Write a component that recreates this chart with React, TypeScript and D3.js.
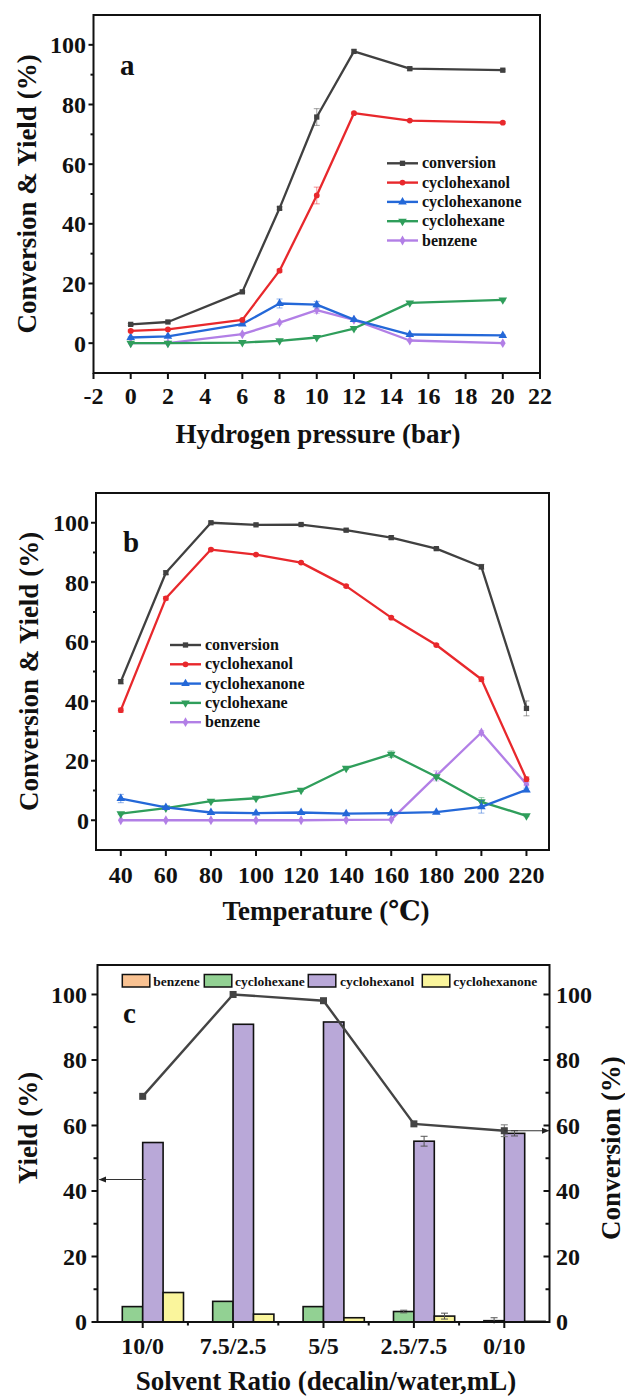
import React from 'react';
import * as d3 from 'd3';

const FONT = "'Liberation Serif', 'Times New Roman', Times, 'DejaVu Serif', serif";

// ---------- shared line-series definitions (panels a, b) ----------
const lineSeriesNames = ['conversion', 'cyclohexanol', 'cyclohexanone', 'cyclohexane', 'benzene'];
const lineSeriesColors = ['#404040', '#e8282c', '#2468d8', '#2f9e5b', '#b27fe6'];

// ---------- panel a : hydrogen pressure ----------
const pressureValues = [0, 2, 6, 8, 10, 12, 15, 20];
const pressureTicks = [-2, 0, 2, 4, 6, 8, 10, 12, 14, 16, 18, 20, 22];
const aConversion = [6.3, 7.1, 17.2, 45.2, 75.8, 97.8, 92.0, 91.5];
const aCyclohexanol = [4.1, 4.6, 7.8, 24.3, 49.5, 77.1, 74.6, 73.9];
const aCyclohexanone = [1.9, 2.3, 6.4, 13.3, 12.9, 7.9, 2.9, 2.6];
const aCyclohexane = [0, 0, 0.2, 0.8, 1.9, 4.9, 13.5, 14.5];
const aBenzene = [0, 0, 3.0, 6.9, 11.1, 7.8, 0.9, 0];
const aConversionErr = [0.3, 0.3, 0.3, 0.5, 2.8, 0.5, 0.5, 0.3];
const aCyclohexanolErr = [0.3, 0.3, 0.3, 0.5, 2.8, 0.3, 0.3, 0.3];
const aCyclohexanoneErr = [0.2, 0.2, 0.3, 1.5, 1.1, 0.3, 0.2, 0.2];
const aCyclohexaneErr = [0, 0, 0, 0.2, 0.3, 0.3, 0.3, 0.3];
const aBenzeneErr = [0, 0, 0.3, 0.5, 1.1, 0.3, 0.2, 0];

// ---------- panel b : temperature ----------
const temperatureValues = [40, 60, 80, 100, 120, 140, 160, 180, 200, 220];
const temperatureTicks = [40, 60, 80, 100, 120, 140, 160, 180, 200, 220];
const bConversion = [46.6, 83.2, 100.0, 99.3, 99.4, 97.5, 95.0, 91.3, 85.2, 37.6];
const bCyclohexanol = [37.0, 74.6, 91.0, 89.3, 86.6, 78.7, 68.1, 58.9, 47.4, 13.8];
const bCyclohexanone = [7.3, 4.3, 2.6, 2.4, 2.6, 2.2, 2.4, 2.7, 4.5, 10.2];
const bCyclohexane = [2.2, 4.1, 6.4, 7.4, 10.1, 17.5, 22.2, 14.6, 6.2, 1.5];
const bBenzene = [0, 0, 0, 0, 0, 0.1, 0.2, 14.9, 29.5, 12.1];
const bConversionErr = [0.7, 0.6, 0.3, 0.3, 0.3, 0.4, 0.6, 0.4, 0.8, 2.5];
const bCyclohexanolErr = [0.7, 0.6, 0.4, 0.3, 0.3, 0.4, 0.4, 0.3, 0.8, 0.8];
const bCyclohexanoneErr = [1.4, 0.4, 0.3, 0.2, 0.2, 0.2, 0.2, 0.3, 2.1, 0.6];
const bCyclohexaneErr = [0.3, 0.3, 0.3, 0.3, 0.3, 0.4, 1.1, 0.5, 1.4, 0.3];
const bBenzeneErr = [0, 0, 0, 0, 0, 0.1, 0.1, 1.7, 0.6, 0.5];

// ---------- panel c : solvent ratio ----------
const solventRatios = ['10/0', '7.5/2.5', '5/5', '2.5/7.5', '0/10'];
const barSeriesNames = ['benzene', 'cyclohexane', 'cyclohexanol', 'cyclohexanone'];
const barColors = ['#f9c292', '#92d193', '#b9a8d8', '#faf59c'];
const cBenzene = [0, 0, 0, 0, 0];
const cCyclohexane = [4.7, 6.3, 4.7, 3.2, 0.4];
const cCyclohexanol = [54.8, 90.9, 91.6, 55.2, 57.6];
const cCyclohexanone = [9.0, 2.4, 1.3, 1.8, 0.2];
const cBenzeneErr = [0, 0, 0, 0, 0];
const cCyclohexaneErr = [0, 0, 0, 0.4, 0.9];
const cCyclohexanolErr = [0, 0, 0, 1.5, 0.8];
const cCyclohexanoneErr = [0, 0, 0, 0.9, 0];
const cConversion = [68.9, 100.0, 98.1, 60.5, 58.4];
const cConversionErr = [0, 0, 0, 0, 1.8];
const yieldTicks = [0, 20, 40, 60, 80, 100];
const conversionTicks = [0, 20, 40, 60, 80, 100];

const symbolTypes = [d3.symbolSquare, d3.symbolCircle, d3.symbolTriangle, d3.symbolTriangle, d3.symbolDiamond];
const symbolRotation = [0, 0, 0, 180, 0];
const symbolSizes = [28, 26, 32, 32, 28];

type Series = { values: number[]; errors: number[] };

function Marker({ idx, x, y, color }: { idx: number; x: number; y: number; color: string }) {
  const d = d3.symbol().type(symbolTypes[idx]).size(symbolSizes[idx])() || '';
  return <path d={d} transform={`translate(${x},${y}) rotate(${symbolRotation[idx]})`} fill={color} />;
}

type PanelCfg = {
  L: number; R: number; T: number; B: number;
  xDomain: [number, number];
  xTicks: number[];
  xs: number[];
  series: Series[];
  legendX: number; legendY: number;
  letter: string; letterX: number; letterY: number;
  xTitle: string; xTitleX: number; xTitleY: number;
  yTitleX: number; yTitleY: number;
  xLabelY: number; yLabelX: number;
};

function LinePanel({ c }: { c: PanelCfg }) {
  const x = d3.scaleLinear().domain(c.xDomain).range([c.L, c.R]);
  const y = d3.scaleLinear().domain([-10, 110]).range([c.B, c.T]);
  const line = d3.line<[number, number]>().x(d => x(d[0])).y(d => y(d[1]));
  const yMajor = [0, 20, 40, 60, 80, 100];
  const yMinor = [10, 30, 50, 70, 90];
  const order = [4, 3, 2, 1, 0];
  return (
    <g>
      {order.map(i => {
        const s = c.series[i];
        const col = lineSeriesColors[i];
        const pts: [number, number][] = c.xs.map((xv, j) => [xv, s.values[j]]);
        return (
          <g key={i}>
            <path d={line(pts) || ''} fill="none" stroke={col} strokeWidth={2.3} strokeLinejoin="round" />
            {c.xs.map((xv, j) => {
              const e = s.errors[j];
              if (!e) return null;
              const cx = x(xv);
              return (
                <g key={j} stroke={col} strokeOpacity={0.5} strokeWidth={1}>
                  <line x1={cx} x2={cx} y1={y(s.values[j] - e)} y2={y(s.values[j] + e)} />
                  <line x1={cx - 3} x2={cx + 3} y1={y(s.values[j] - e)} y2={y(s.values[j] - e)} />
                  <line x1={cx - 3} x2={cx + 3} y1={y(s.values[j] + e)} y2={y(s.values[j] + e)} />
                </g>
              );
            })}
            {c.xs.map((xv, j) => (
              <Marker key={'m' + j} idx={i} x={x(xv)} y={y(s.values[j])} color={col} />
            ))}
          </g>
        );
      })}
      <rect x={c.L} y={c.T} width={c.R - c.L} height={c.B - c.T} fill="none" stroke="#111" strokeWidth={2} />
      {yMajor.map(v => (
        <g key={'ym' + v}>
          <line x1={c.L - 5} x2={c.L} y1={y(v)} y2={y(v)} stroke="#111" strokeWidth={2} />
          <text x={c.yLabelX} y={y(v)} dy="0.35em" textAnchor="end" fontSize={24} fontWeight="bold" fontFamily={FONT} fill="#111">{v}</text>
        </g>
      ))}
      {yMinor.map(v => (
        <line key={'yn' + v} x1={c.L - 3} x2={c.L} y1={y(v)} y2={y(v)} stroke="#111" strokeWidth={2} />
      ))}
      {c.xTicks.map(v => (
        <g key={'xt' + v}>
          <line x1={x(v)} x2={x(v)} y1={c.B} y2={c.B + 6} stroke="#111" strokeWidth={2} />
          <text x={x(v)} y={c.xLabelY} textAnchor="middle" fontSize={24} fontWeight="bold" fontFamily={FONT} fill="#111">{v}</text>
        </g>
      ))}
      <text x={c.xTitleX} y={c.xTitleY} textAnchor="middle" fontSize={27} fontWeight="bold" fontFamily={FONT} fill="#111">{c.xTitle}</text>
      <text transform={`translate(${c.yTitleX},${c.yTitleY}) rotate(-90)`} textAnchor="middle" fontSize={27} fontWeight="bold" fontFamily={FONT} fill="#111">Conversion &amp; Yield (%)</text>
      <text x={c.letterX} y={c.letterY} fontSize={29} fontWeight="bold" fontFamily={FONT} fill="#111">{c.letter}</text>
      {lineSeriesNames.map((n, i) => {
        const ly = c.legendY + i * 19.3;
        return (
          <g key={'lg' + i}>
            <line x1={c.legendX} x2={c.legendX + 31} y1={ly} y2={ly} stroke={lineSeriesColors[i]} strokeWidth={2.4} />
            <Marker idx={i} x={c.legendX + 15.5} y={ly} color={lineSeriesColors[i]} />
            <text x={c.legendX + 35} y={ly} dy="0.32em" fontSize={16} fontWeight="bold" fontFamily={FONT} fill="#111">{n}</text>
          </g>
        );
      })}
    </g>
  );
}

function BarPanel() {
  const L = 97.5, R = 549.5, T = 965, B = 1322;
  const x0 = d3.scaleBand<string>().domain(solventRatios).range([L, R]).padding(0);
  const y = d3.scaleLinear().domain([0, 109]).range([B, T]);
  const bw = x0.bandwidth();
  const barVals = [cBenzene, cCyclohexane, cCyclohexanol, cCyclohexanone];
  const barErrs = [cBenzeneErr, cCyclohexaneErr, cCyclohexanolErr, cCyclohexanoneErr];
  const cx = (cat: string) => (x0(cat) || 0) + bw / 2;
  const line = d3.line<number>().x((_, i) => cx(solventRatios[i])).y(d => y(d));
  const ticks10 = d3.range(0, 101, 10);
  const legendOffsets = [122.3, 204.3, 308.3, 422.3];
  const textOffsets = [153.3, 235, 340, 453.3];
  const arrowLeftY = y(43.5);
  const lastX = cx(solventRatios[4]);
  const lastY = y(cConversion[4]);
  return (
    <g>
      <defs>
        <marker id="arrowHead" viewBox="0 0 10 10" refX="9" refY="5" markerWidth="7" markerHeight="7" orient="auto-start-reverse">
          <path d="M0,1 L10,5 L0,9 z" fill="#222" />
        </marker>
      </defs>
      {solventRatios.map((cat, ci) => {
        const x1 = d3.scaleBand<string>().domain(barSeriesNames).range([(x0(cat) || 0) + 4.4, (x0(cat) || 0) + bw - 4.4]).padding(0);
        return (
          <g key={cat}>
            {barSeriesNames.map((n, si) => {
              const v = barVals[si][ci];
              const bx = x1(n) || 0;
              const e = barErrs[si][ci];
              const mx = bx + x1.bandwidth() / 2;
              return (
                <g key={n}>
                  {v > 0 && (
                    <rect x={bx} y={y(v)} width={x1.bandwidth()} height={B - y(v)} fill={barColors[si]} stroke="#111" strokeWidth={1.6} />
                  )}
                  {e > 0 && (
                    <g stroke="#555" strokeWidth={1}>
                      <line x1={mx} x2={mx} y1={y(v - e)} y2={y(v + e)} />
                      <line x1={mx - 3.5} x2={mx + 3.5} y1={y(v + e)} y2={y(v + e)} />
                      <line x1={mx - 3.5} x2={mx + 3.5} y1={y(Math.max(0, v - e))} y2={y(Math.max(0, v - e))} />
                    </g>
                  )}
                </g>
              );
            })}
          </g>
        );
      })}
      <path d={line(cConversion) || ''} fill="none" stroke="#444" strokeWidth={2.4} />
      {cConversion.map((v, i) => {
        const e = cConversionErr[i];
        const px = cx(solventRatios[i]);
        return (
          <g key={'cv' + i}>
            {e > 0 && (
              <g stroke="#777" strokeWidth={1}>
                <line x1={px} x2={px} y1={y(v - e)} y2={y(v + e)} />
                <line x1={px - 3.5} x2={px + 3.5} y1={y(v + e)} y2={y(v + e)} />
                <line x1={px - 3.5} x2={px + 3.5} y1={y(v - e)} y2={y(v - e)} />
              </g>
            )}
            <rect x={px - 3.5} y={y(v) - 3.5} width={7} height={7} fill="#444" />
          </g>
        );
      })}
      {/* arrows */}
      <line x1={cx(solventRatios[0]) + 3} x2={L + 2} y1={arrowLeftY} y2={arrowLeftY} stroke="#333" strokeWidth={1.1} markerEnd="url(#arrowHead)" />
      <line x1={lastX} x2={R - 1} y1={lastY} y2={lastY} stroke="#333" strokeWidth={1.1} markerEnd="url(#arrowHead)" />
      {/* frame */}
      <rect x={L} y={T} width={R - L} height={B - T} fill="none" stroke="#111" strokeWidth={2} />
      {ticks10.map(v => (
        <g key={'t' + v}>
          <line x1={L - (v % 20 === 0 ? 6 : 4)} x2={L} y1={y(v)} y2={y(v)} stroke="#111" strokeWidth={2} />
          <line x1={R - (v % 20 === 0 ? 6 : 4)} x2={R} y1={y(v)} y2={y(v)} stroke="#111" strokeWidth={2} />
        </g>
      ))}
      {yieldTicks.map(v => (
        <text key={'yl' + v} x={87} y={y(v)} dy="0.35em" textAnchor="end" fontSize={24} fontWeight="bold" fontFamily={FONT} fill="#111">{v}</text>
      ))}
      {conversionTicks.map(v => (
        <text key={'cl' + v} x={556} y={y(v)} dy="0.35em" textAnchor="start" fontSize={24} fontWeight="bold" fontFamily={FONT} fill="#111">{v}</text>
      ))}
      {solventRatios.map((cat, i) => (
        <g key={'xl' + cat}>
          <line x1={cx(cat)} x2={cx(cat)} y1={B} y2={B + 6} stroke="#111" strokeWidth={2} />
          {i > 0 && <line x1={x0(cat) || 0} x2={x0(cat) || 0} y1={B} y2={B + 3.5} stroke="#111" strokeWidth={2} />}
          <text x={cx(cat)} y={1354} textAnchor="middle" fontSize={24} fontWeight="bold" fontFamily={FONT} fill="#111">{cat}</text>
        </g>
      ))}
      <text x={326} y={1390} textAnchor="middle" fontSize={27} fontWeight="bold" fontFamily={FONT} fill="#111">Solvent Ratio (decalin/water,mL)</text>
      <text transform={`translate(37,1128) rotate(-90)`} textAnchor="middle" fontSize={27} fontWeight="bold" fontFamily={FONT} fill="#111">Yield (%)</text>
      <text transform={`translate(620,1148) rotate(-90)`} textAnchor="middle" fontSize={27} fontWeight="bold" fontFamily={FONT} fill="#111">Conversion (%)</text>
      <text x={123} y={1023} fontSize={29} fontWeight="bold" fontFamily={FONT} fill="#111">c</text>
      {barSeriesNames.map((n, i) => (
        <g key={'lg' + n}>
          <rect x={legendOffsets[i]} y={974.5} width={27.5} height={12.5} fill={barColors[i]} stroke="#111" strokeWidth={1.5} />
          <text x={textOffsets[i]} y={985.5} fontSize={13.5} fontWeight="bold" fontFamily={FONT} fill="#111">{n}</text>
        </g>
      ))}
    </g>
  );
}

export default function App() {
  const panelA: PanelCfg = {
    L: 93.5, R: 540, T: 15, B: 373,
    xDomain: [-2, 22], xTicks: pressureTicks, xs: pressureValues,
    series: [
      { values: aConversion, errors: aConversionErr },
      { values: aCyclohexanol, errors: aCyclohexanolErr },
      { values: aCyclohexanone, errors: aCyclohexanoneErr },
      { values: aCyclohexane, errors: aCyclohexaneErr },
      { values: aBenzene, errors: aBenzeneErr },
    ],
    legendX: 387, legendY: 163.3,
    letter: 'a', letterX: 120, letterY: 75,
    xTitle: 'Hydrogen pressure (bar)', xTitleX: 318, xTitleY: 443,
    yTitleX: 36, yTitleY: 194,
    xLabelY: 404, yLabelX: 86,
  };
  const panelB: PanelCfg = {
    L: 96, R: 549, T: 493, B: 850,
    xDomain: [29, 230], xTicks: temperatureTicks, xs: temperatureValues,
    series: [
      { values: bConversion, errors: bConversionErr },
      { values: bCyclohexanol, errors: bCyclohexanolErr },
      { values: bCyclohexanone, errors: bCyclohexanoneErr },
      { values: bCyclohexane, errors: bCyclohexaneErr },
      { values: bBenzene, errors: bBenzeneErr },
    ],
    legendX: 170, legendY: 645,
    letter: 'b', letterX: 123, letterY: 551.7,
    xTitle: 'Temperature (℃)', xTitleX: 326, xTitleY: 920,
    yTitleX: 38, yTitleY: 671.5,
    xLabelY: 883, yLabelX: 89,
  };
  return (
    <svg width={625} height={1396} style={{ position: 'absolute', left: 0, top: 0, background: '#fff' }}>
      <rect x={0} y={0} width={625} height={1396} fill="#fff" />
      <LinePanel c={panelA} />
      <LinePanel c={panelB} />
      <BarPanel />
    </svg>
  );
}
